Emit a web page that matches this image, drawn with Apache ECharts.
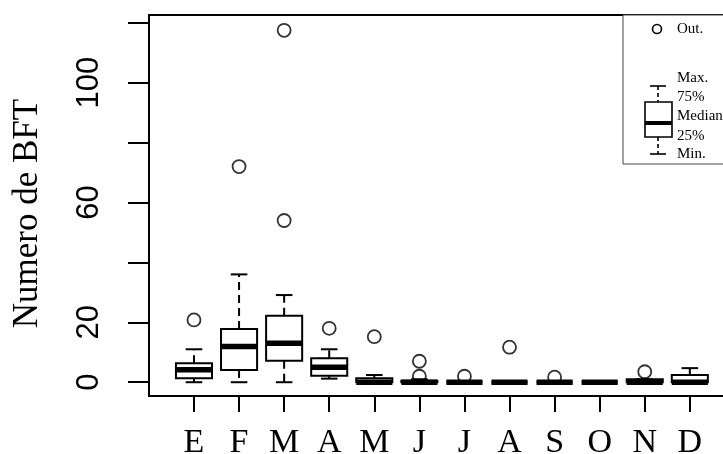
<!DOCTYPE html>
<html>
<head>
<meta charset="utf-8">
<script src="https://cdn.jsdelivr.net/npm/echarts@6/dist/echarts.min.js"></script>
<style>html,body{margin:0;padding:0;background:#fff;}#c{width:723px;height:454px;}</style>
</head>
<body>
<div id="c"></div>
<script>
// ---- data ----
var months = ['E','F','M','A','M','J','J','A','S','O','N','D'];
var mins    = [0,   0,    0,    1.2, 0,   0,   0, 0, 0, 0, 0, 0];
var q1s     = [1.3, 4.1,  7.2,  2.2, 0,   0,   0, 0, 0, 0, 0, 0];
var medians = [4.2, 11.9, 13.0, 5.0, 0,   0,   0, 0, 0, 0, 0, 0];
var q3s     = [6.3, 17.8, 22.2, 8.0, 1.3, 0.5, 0, 0, 0, 0, 1, 2.4];
var maxs    = [11,  36,   29.1, 11,  2.4, 1,   0, 0, 0, 0, 1, 4.7];
var outliers = [[20.8],[72],[54,117.5],[18],[15.2],[2,7],[2],[11.7],[1.7],[],[3.5],[]];
var yTicks  = [0,20,40,60,80,100,120];
var yLabels = [0,20,60,100];

var boxData = months.map(function(m,i){ return [i+1, mins[i], q1s[i], medians[i], q3s[i], maxs[i]]; });
var outData = [];
outliers.forEach(function(arr,i){ arr.forEach(function(v){ outData.push([i+1, v]); }); });
var xTicks = months.map(function(m,i){ return i+1; });

var chart = echarts.init(document.getElementById('c'), null, {renderer:'canvas'});
var black = '#000';
chart.setOption({
  animation:false,
  backgroundColor:'#fff',
  grid:{left:149, right:-11, top:15, bottom:58, outerBoundsMode:'none', containLabel:false,
        show:true, borderColor:black, borderWidth:2, backgroundColor:'transparent'},
  xAxis:{
    type:'value', min:0.002, max:12.98,
    splitLine:{show:false},
    axisLine:{show:true, onZero:false, lineStyle:{color:black, width:2}},
    axisTick:{show:true, length:16, lineStyle:{color:black, width:2}, customValues:xTicks},
    axisLabel:{customValues:xTicks, margin:30, fontFamily:'Liberation Serif', fontSize:34, color:black,
      formatter:function(v){ return months[Math.round(v)-1]; }}
  },
  yAxis:{
    type:'value', min:-4.6, max:122.6,
    name:'Numero de BFT', nameLocation:'middle', nameRotate:90, nameGap:104,
    nameTextStyle:{fontFamily:'Liberation Serif', fontSize:35, color:black, padding:[0,16,0,0]},
    splitLine:{show:false},
    axisLine:{show:true, onZero:false, lineStyle:{color:black, width:2}},
    axisTick:{show:true, length:21, lineStyle:{color:black, width:2}, customValues:yTicks},
    axisLabel:{customValues:yLabels, rotate:90, margin:44, fontFamily:'Liberation Sans', fontSize:31, color:black}
  },
  series:[
    {
      type:'custom',
      data:boxData,
      encode:{x:0, y:[1,2,3,4,5]},
      clip:false,
      renderItem:function(params, api){
        var x = api.value(0);
        var pMin = api.coord([x, api.value(1)]);
        var pQ1 = api.coord([x, api.value(2)]);
        var pMed = api.coord([x, api.value(3)]);
        var pQ3 = api.coord([x, api.value(4)]);
        var pMax = api.coord([x, api.value(5)]);
        var bw = api.size([0.8, 0])[0];
        var cw = bw * 0.46;
        var cx = pMed[0];
        var ls = {stroke:black, lineWidth:2};
        var dash = {stroke:black, lineWidth:2, lineDash:[8,5]};
        return {type:'group', children:[
          {type:'line', shape:{x1:cx, y1:pQ3[1], x2:cx, y2:pMax[1]}, style:dash},
          {type:'line', shape:{x1:cx, y1:pQ1[1], x2:cx, y2:pMin[1]}, style:dash},
          {type:'line', shape:{x1:cx-cw/2, y1:pMax[1], x2:cx+cw/2, y2:pMax[1]}, style:ls},
          {type:'line', shape:{x1:cx-cw/2, y1:pMin[1], x2:cx+cw/2, y2:pMin[1]}, style:ls},
          {type:'rect', shape:{x:cx-bw/2, y:pQ3[1], width:bw, height:pQ1[1]-pQ3[1]}, style:{fill:'#fff', stroke:black, lineWidth:2}},
          {type:'line', shape:{x1:cx-bw/2, y1:pMed[1], x2:cx+bw/2, y2:pMed[1]}, style:{stroke:black, lineWidth:5.5}}
        ]};
      }
    },
    {
      type:'scatter',
      data:outData,
      symbol:'circle',
      symbolSize:13,
      itemStyle:{color:'transparent', borderColor:black, borderWidth:1.8},
      z:5
    }
  ],
  graphic:[
    {type:'rect', shape:{x:623, y:15, width:130, height:149}, style:{fill:'#fff', stroke:'#444', lineWidth:1}, z:10},
    {type:'circle', shape:{cx:657, cy:29, r:4.5}, style:{fill:'transparent', stroke:black, lineWidth:1.6}, z:11},
    {type:'text', x:677, y:29, style:{text:'Out.', font:'15px "Liberation Serif"', fill:black, verticalAlign:'middle'}, z:11},
    {type:'text', x:677, y:78, style:{text:'Max.', font:'15px "Liberation Serif"', fill:black, verticalAlign:'middle'}, z:11},
    {type:'text', x:677, y:97, style:{text:'75%', font:'15px "Liberation Serif"', fill:black, verticalAlign:'middle'}, z:11},
    {type:'text', x:677, y:116, style:{text:'Median', font:'15px "Liberation Serif"', fill:black, verticalAlign:'middle'}, z:11},
    {type:'text', x:677, y:136, style:{text:'25%', font:'15px "Liberation Serif"', fill:black, verticalAlign:'middle'}, z:11},
    {type:'text', x:677, y:154, style:{text:'Min.', font:'15px "Liberation Serif"', fill:black, verticalAlign:'middle'}, z:11},
    {type:'line', shape:{x1:650, y1:86, x2:666, y2:86}, style:{stroke:black, lineWidth:1.6}, z:11},
    {type:'line', shape:{x1:658, y1:86, x2:658, y2:102}, style:{stroke:black, lineWidth:1.6, lineDash:[4,3]}, z:11},
    {type:'rect', shape:{x:645, y:102, width:27, height:35}, style:{fill:'#fff', stroke:black, lineWidth:1.6}, z:11},
    {type:'line', shape:{x1:645, y1:123, x2:672, y2:123}, style:{stroke:black, lineWidth:4}, z:11},
    {type:'line', shape:{x1:658, y1:137, x2:658, y2:154}, style:{stroke:black, lineWidth:1.6, lineDash:[4,3]}, z:11},
    {type:'line', shape:{x1:650, y1:154, x2:666, y2:154}, style:{stroke:black, lineWidth:1.6}, z:11}
  ]
});
</script>
</body>
</html>
